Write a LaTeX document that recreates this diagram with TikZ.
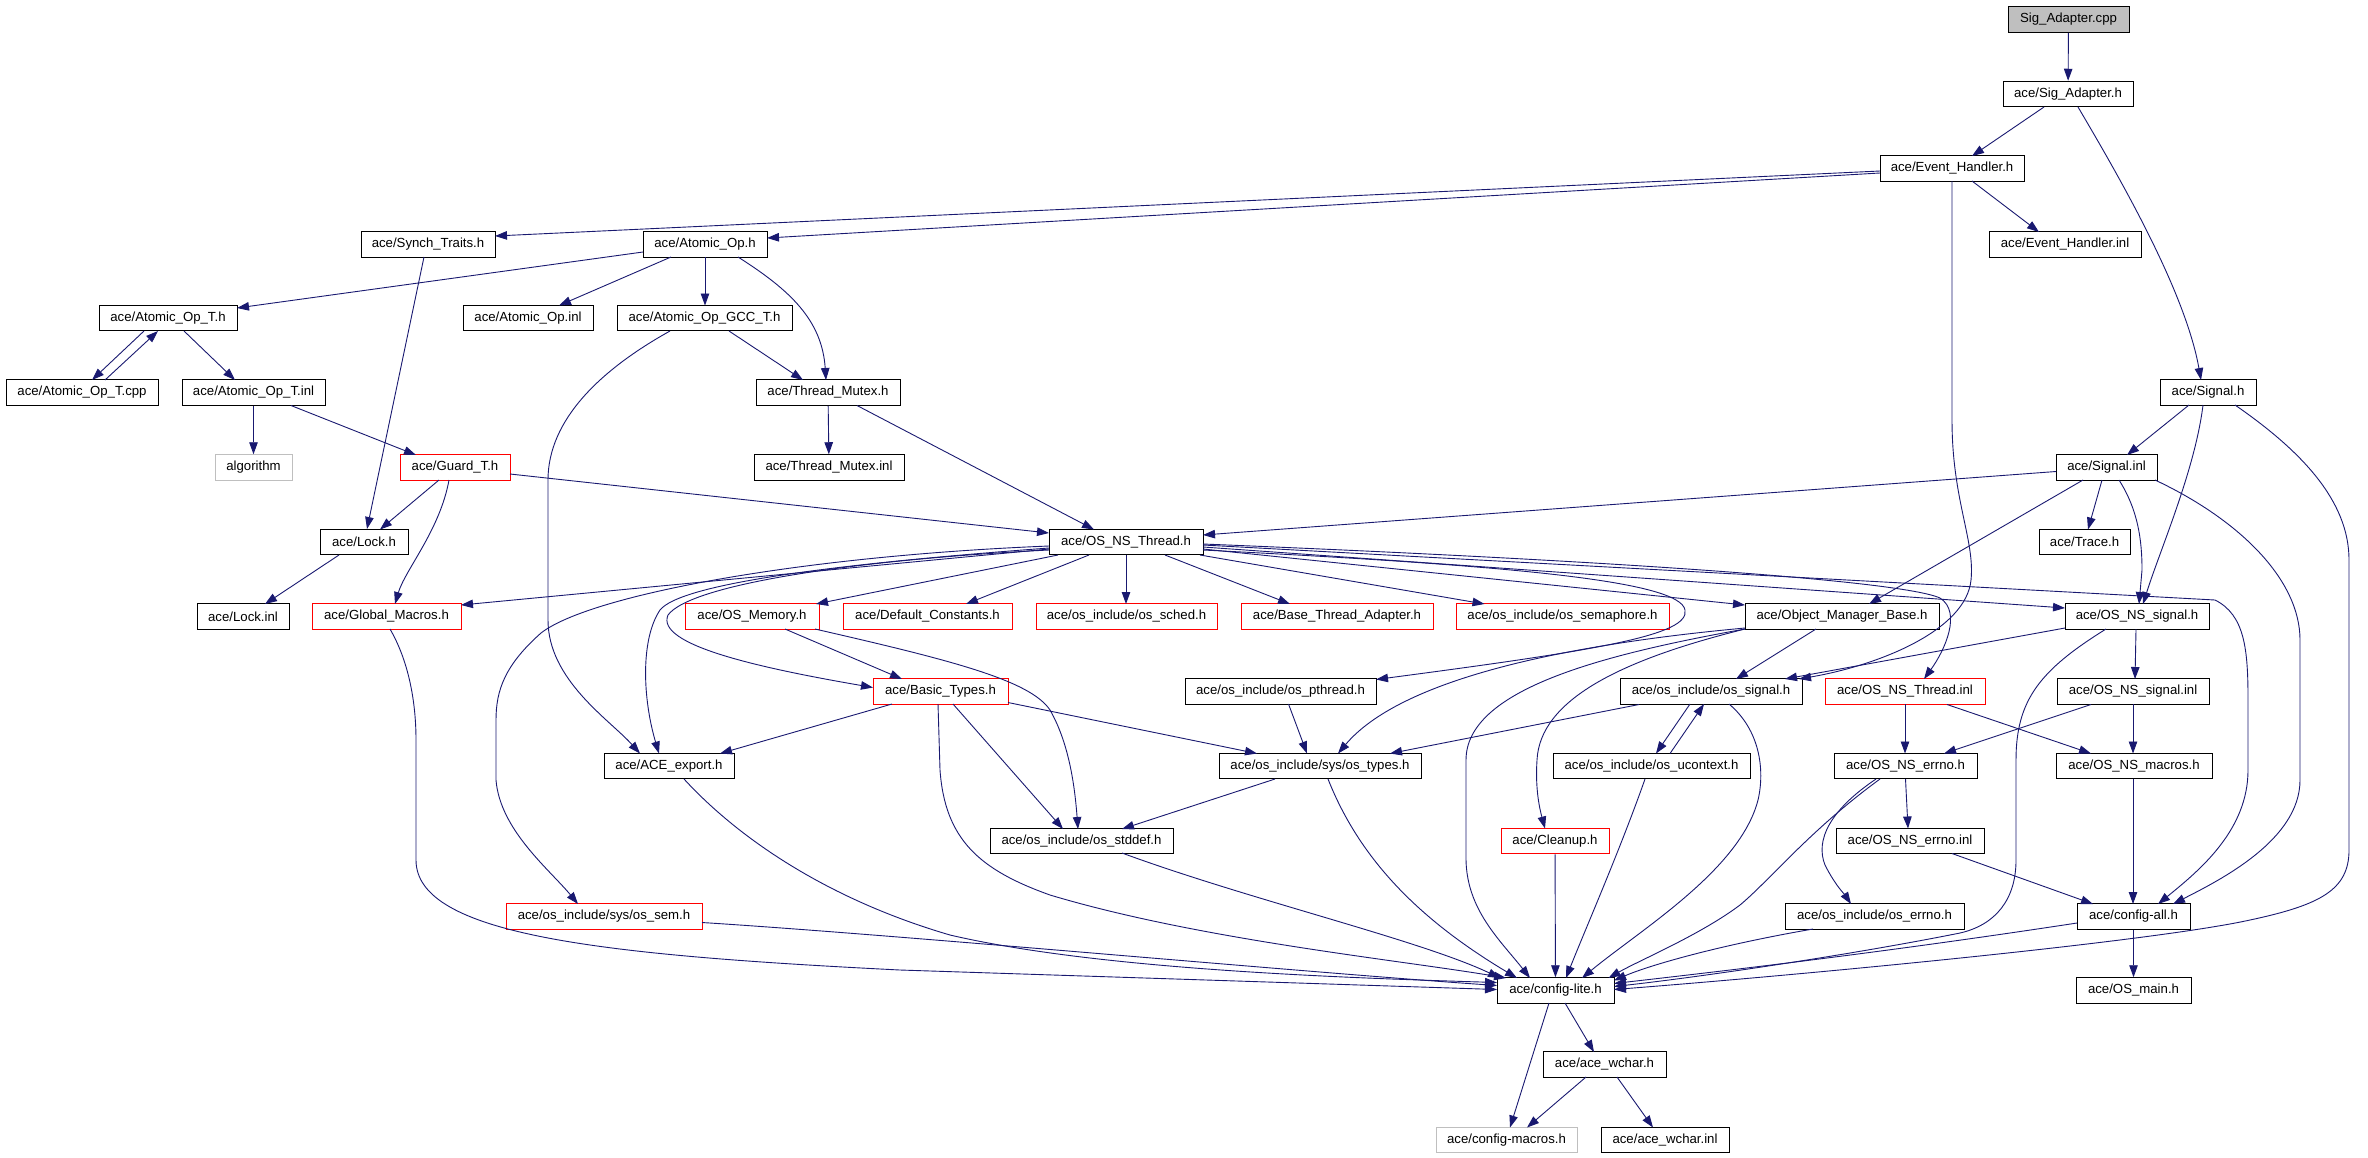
\documentclass[tikz,border=0pt]{standalone}
\usepackage{fontspec}
\setmainfont{Liberation Sans}
\usetikzlibrary{arrows.meta,calc}
\definecolor{edgeblue}{RGB}{25,25,112}
\definecolor{graybox}{RGB}{191,191,191}
\begin{document}
\begin{tikzpicture}[x=1pt,y=-1pt,
  box/.style={draw=black,line width=1pt,rectangle,inner sep=0pt,minimum height=25.5pt,font=\fontsize{13.2}{15}\selectfont,text=black},
  redbox/.style={box,draw=red},
  greybox/.style={box,draw=graybox},
  rootbox/.style={box,fill=graybox},
  e/.style={draw=edgeblue,line width=0.9pt,-{Triangle[length=12pt,width=8.5pt]}}]
\useasboundingbox (0,0) rectangle (2368,1157);
% nodes
\node[rootbox,minimum width=121pt] (cpp) at (2068.5,19.5) {Sig\_Adapter.cpp};
\node[box,minimum width=130pt] (sigh) at (2068,94) {ace/Sig\_Adapter.h};
\node[box,minimum width=144pt] (evh) at (1952,168.5) {ace/Event\_Handler.h};
\node[box,minimum width=134pt] (synch) at (428,244.5) {ace/Synch\_Traits.h};
\node[box,minimum width=124pt] (aop) at (705,244.5) {ace/Atomic\_Op.h};
\node[box,minimum width=152pt] (evhinl) at (2065,244.5) {ace/Event\_Handler.inl};
\node[box,minimum width=138pt] (aopt) at (168,318) {ace/Atomic\_Op\_T.h};
\node[box,minimum width=130pt] (aopinl) at (528,318) {ace/Atomic\_Op.inl};
\node[box,minimum width=175pt] (gcc) at (704.5,318) {ace/Atomic\_Op\_GCC\_T.h};
\node[box,minimum width=152pt] (aoptcpp) at (82,392.5) {ace/Atomic\_Op\_T.cpp};
\node[box,minimum width=143pt] (aoptinl) at (253.5,392.5) {ace/Atomic\_Op\_T.inl};
\node[box,minimum width=144pt] (tmutex) at (828,392.5) {ace/Thread\_Mutex.h};
\node[box,minimum width=96pt] (signal) at (2208,392.5) {ace/Signal.h};
\node[greybox,minimum width=77pt] (algorithm) at (253.5,467.5) {algorithm};
\node[redbox,minimum width=110pt] (guard) at (455,467.5) {ace/Guard\_T.h};
\node[box,minimum width=150pt] (tmutexinl) at (829,467.5) {ace/Thread\_Mutex.inl};
\node[box,minimum width=101pt] (signalinl) at (2106.5,467.5) {ace/Signal.inl};
\node[box,minimum width=88pt] (lock) at (364,542) {ace/Lock.h};
\node[box,minimum width=154pt] (osnsthread) at (1126,542) {ace/OS\_NS\_Thread.h};
\node[box,minimum width=91pt] (trace) at (2084.5,542) {ace/Trace.h};
\node[box,minimum width=92pt] (lockinl) at (243,616.5) {ace/Lock.inl};
\node[redbox,minimum width=149pt] (globalmacros) at (386.5,616.5) {ace/Global\_Macros.h};
\node[redbox,minimum width=134pt] (osmemory) at (752,616.5) {ace/OS\_Memory.h};
\node[redbox,minimum width=169pt] (defconst) at (927.5,616.5) {ace/Default\_Constants.h};
\node[redbox,minimum width=181pt] (ossched) at (1126.5,616.5) {ace/os\_include/os\_sched.h};
\node[redbox,minimum width=192pt] (bta) at (1337,616.5) {ace/Base\_Thread\_Adapter.h};
\node[redbox,minimum width=213pt] (ossem4) at (1562.5,616.5) {ace/os\_include/os\_semaphore.h};
\node[box,minimum width=194pt] (omb) at (1842,616.5) {ace/Object\_Manager\_Base.h};
\node[box,minimum width=144pt] (osnssignal) at (2137,616.5) {ace/OS\_NS\_signal.h};
\node[redbox,minimum width=135pt] (basictypes) at (940.5,691.5) {ace/Basic\_Types.h};
\node[box,minimum width=191pt] (ospthread) at (1280.5,691.5) {ace/os\_include/os\_pthread.h};
\node[box,minimum width=182pt] (ossignal) at (1711,691.5) {ace/os\_include/os\_signal.h};
\node[redbox,minimum width=160pt] (osnsthreadinl) at (1905,691.5) {ace/OS\_NS\_Thread.inl};
\node[box,minimum width=152pt] (osnssignalinl) at (2133,691.5) {ace/OS\_NS\_signal.inl};
\node[box,minimum width=130pt] (aceexport) at (669,766) {ace/ACE\_export.h};
\node[box,minimum width=202pt] (ostypes) at (1320,766) {ace/os\_include/sys/os\_types.h};
\node[box,minimum width=197pt] (osucontext) at (1651.5,766) {ace/os\_include/os\_ucontext.h};
\node[box,minimum width=143pt] (osnserrno) at (1905.5,766) {ace/OS\_NS\_errno.h};
\node[box,minimum width=156pt] (osnsmacros) at (2134,766) {ace/OS\_NS\_macros.h};
\node[box,minimum width=183pt] (osstddef) at (1081.5,841) {ace/os\_include/os\_stddef.h};
\node[redbox,minimum width=108pt] (cleanup) at (1555,841) {ace/Cleanup.h};
\node[box,minimum width=148pt] (osnserrnoinl) at (1910,841) {ace/OS\_NS\_errno.inl};
\node[redbox,minimum width=196pt] (ossemsys) at (604,916.5) {ace/os\_include/sys/os\_sem.h};
\node[box,minimum width=179pt] (oserrno) at (1874.5,916.5) {ace/os\_include/os\_errno.h};
\node[box,minimum width=113pt] (configall) at (2133.5,916.5) {ace/config-all.h};
\node[box,minimum width=117pt] (configlite) at (1555.5,990.5) {ace/config-lite.h};
\node[box,minimum width=115pt] (osmain) at (2133.5,990.5) {ace/OS\_main.h};
\node[box,minimum width=123pt] (acewchar) at (1604.5,1064.5) {ace/ace\_wchar.h};
\node[greybox,minimum width=141pt] (configmacros) at (1506.5,1140) {ace/config-macros.h};
\node[box,minimum width=128pt] (acewcharinl) at (1665,1140) {ace/ace\_wchar.inl};
% edges
\draw[e] (cpp) -- (sigh);
\draw[e] ($(sigh)+(-24,13)$) -- ($(evh)+(20,-12.5)$);
\draw[e] ($(sigh)+(10,13)$) .. controls (2118,175) and (2185,290) .. ($(signal)+(-7,-12.5)$);
\draw[e] ($(evh)+(-72,2.5)$) -- ($(synch)+(67,-8.5)$);
\draw[e] ($(evh)+(-72,4.5)$) -- ($(aop)+(62,-6.5)$);
\draw[e] ($(evh)+(20,12.5)$) -- ($(evhinl)+(-26,-12.5)$);
\draw[e] ($(evh)+(0,12.5)$) -- (1952,420) .. controls (1952,500) and (1975,540) .. (1971,580) .. controls (1966,630) and (1880,665) .. ($(ossignal)+(88,-12.5)$);
\draw[e] ($(synch)+(-4,12.5)$) -- ($(lock)+(3,-13)$);
\draw[e] ($(aop)+(-62,7.5)$) -- ($(aopt)+(69,-10)$);
\draw[e] ($(aop)+(-34,12.5)$) -- ($(aopinl)+(31,-12.5)$);
\draw[e] ($(aop)+(0,12.5)$) -- ($(gcc)+(0.5,-12.5)$);
\draw[e] ($(aop)+(33,12.5)$) .. controls (790,290) and (822,320) .. ($(tmutex)+(-2,-12.5)$);
\draw[e] ($(aopt)+(-24,13)$) -- ($(aoptcpp)+(10,-12.5)$);
\draw[e] ($(aoptcpp)+(23,-12.5)$) -- ($(aopt)+(-10,13)$);
\draw[e] ($(aopt)+(16,13)$) -- ($(aoptinl)+(-18.5,-12.5)$);
\draw[e] ($(gcc)+(-34.5,13)$) .. controls (600,370) and (548,420) .. (548,480) -- (548,620) .. controls (548,680) and (610,720) .. ($(aceexport)+(-29,-12.5)$);
\draw[e] ($(gcc)+(24.5,13)$) -- ($(tmutex)+(-25,-12.5)$);
\draw[e] (aoptinl) -- (algorithm);
\draw[e] ($(aoptinl)+(37.5,13)$) -- ($(guard)+(-39,-12.5)$);
\draw[e] (tmutex) -- (tmutexinl);
\draw[e] ($(tmutex)+(29,13)$) -- ($(osnsthread)+(-32,-12.5)$);
\draw[e] ($(guard)+(-16,12.5)$) -- ($(lock)+(16,-12.5)$);
\draw[e] ($(guard)+(-6,12.5)$) .. controls (440,530) and (405,570) .. ($(globalmacros)+(8.5,-12.5)$);
\draw[e] ($(guard)+(55,6.5)$) -- ($(osnsthread)+(-77,-9)$);
\draw[e] ($(lock)+(-25,13)$) -- ($(lockinl)+(22,-12.5)$);
\draw[e] ($(globalmacros)+(3.5,12.5)$) .. controls (408,660) and (416,700) .. (416,740) -- (416,860) .. controls (416,935) and (600,955) .. (900,970) -- ($(configlite)+(-58.5,-1)$);
\draw[e] ($(osnsthread)+(-77,7)$) -- ($(globalmacros)+(74.5,-11.5)$);
\draw[e] ($(osnsthread)+(-77,4)$) .. controls (800,556) and (590,595) .. (541,633) .. controls (505,665) and (496,690) .. (496,720) -- (496,780) .. controls (500,830) and (550,870) .. ($(ossemsys)+(-26,-12.5)$);
\draw[e] ($(osnsthread)+(-77,6)$) .. controls (820,565) and (680,585) .. (660,610) .. controls (640,640) and (643,700) .. ($(aceexport)+(-10,-12.5)$);
\draw[e] ($(osnsthread)+(-77,8)$) .. controls (850,560) and (690,585) .. (668,615) .. controls (655,645) and (760,668) .. ($(basictypes)+(-67.5,-4)$);
\draw[e] ($(osnsthread)+(-68,13)$) -- ($(osmemory)+(64,-12.5)$);
\draw[e] ($(osnsthread)+(-37,13)$) -- ($(defconst)+(38.5,-12.5)$);
\draw[e] ($(osnsthread)+(0,13)$) -- ($(ossched)+(-0.5,-12.5)$);
\draw[e] ($(osnsthread)+(39,13)$) -- ($(bta)+(-47,-12.5)$);
\draw[e] ($(osnsthread)+(74,13)$) -- ($(ossem4)+(-78,-12.5)$);
\draw[e] ($(osnsthread)+(77,7)$) -- ($(omb)+(-97,-11.5)$);
\draw[e] ($(osnsthread)+(77,5)$) -- ($(osnssignal)+(-72,-8.5)$);
\draw[e] ($(osnsthread)+(77,3)$) -- (2215,600) .. controls (2245,615) and (2248,650) .. (2248,700) -- (2248,770) .. controls (2248,830) and (2200,870) .. ($(configall)+(24.5,-12.5)$);
\draw[e] ($(osnsthread)+(77,2)$) .. controls (1600,560) and (1900,580) .. (1940,598) .. controls (1962,612) and (1945,650) .. ($(osnsthreadinl)+(19,-12.5)$);
\draw[e] ($(osnsthread)+(77,8)$) .. controls (1500,565) and (1680,580) .. (1685,610) .. controls (1690,635) and (1600,650) .. ($(ospthread)+(95.5,-12)$);
\draw[e] ($(omb)+(-26,12.5)$) -- ($(ossignal)+(25,-12.5)$);
\draw[e] ($(omb)+(-97,11.5)$) .. controls (1560,645) and (1400,680) .. ($(ostypes)+(18,-12.5)$);
\draw[e] ($(omb)+(-97,12.5)$) .. controls (1600,655) and (1466,690) .. (1466,760) -- (1466,860) .. controls (1467,910) and (1500,940) .. ($(configlite)+(-25.5,-12.5)$);
\draw[e] ($(omb)+(-97,12.5)$) .. controls (1620,660) and (1540,700) .. (1537,760) .. controls (1535,790) and (1540,810) .. ($(cleanup)+(-10,-12.5)$);
\draw[e] ($(ossignal)+(-72,13)$) -- ($(ostypes)+(70,-12.5)$);
\draw[e] ($(ossignal)+(-21,12.5)$) -- ($(osucontext)+(4.5,-12.5)$);
\draw[e] ($(osucontext)+(18.5,-12.5)$) -- ($(ossignal)+(-7,12.5)$);
\draw[e] ($(ossignal)+(18,12.5)$) .. controls (1760,730) and (1765,770) .. (1758,800) .. controls (1740,870) and (1640,930) .. ($(configlite)+(26.5,-12.5)$);
\draw[e] ($(osucontext)+(-6.5,13)$) .. controls (1620,850) and (1585,930) .. ($(configlite)+(10.5,-12.5)$);
\draw[e] (cleanup) -- (configlite);
\draw[e] ($(ostypes)+(-45,13)$) -- ($(osstddef)+(40.5,-12)$);
\draw[e] ($(ostypes)+(8,13)$) .. controls (1360,860) and (1420,920) .. ($(configlite)+(-38.5,-12.5)$);
\draw[e] ($(osstddef)+(40.5,12)$) .. controls (1250,900) and (1420,940) .. ($(configlite)+(-55.5,-12.5)$);
\draw[e] ($(basictypes)+(-2.5,12.5)$) -- (940,770) .. controls (945,840) and (980,870) .. (1050,895) .. controls (1200,940) and (1400,960) .. ($(configlite)+(-49.5,-12.5)$);
\draw[e] ($(aceexport)+(15,13)$) .. controls (740,840) and (830,900) .. (950,935) .. controls (1100,970) and (1350,978) .. ($(configlite)+(-58.5,-8)$);
\draw[e] ($(ossemsys)+(98,6)$) .. controls (900,935) and (1300,972) .. ($(configlite)+(-58.5,-5)$);
\draw[e] ($(osnserrno)+(-25.5,13)$) .. controls (1810,830) and (1770,880) .. (1740,905) .. controls (1700,935) and (1640,960) .. ($(configlite)+(53,-12.5)$);
\draw[e] ($(osnserrno)+(-29.5,13)$) .. controls (1830,810) and (1815,840) .. (1825,865) .. controls (1835,885) and (1845,895) .. ($(oserrno)+(-23.5,-12.5)$);
\draw[e] ($(osnserrno)+(0,13)$) -- ($(osnserrnoinl)+(-2,-12.5)$);
\draw[e] ($(osnserrnoinl)+(42,12.5)$) -- ($(configall)+(-40.5,-12.5)$);
\draw[e] ($(oserrno)+(-61.5,12.5)$) .. controls (1720,945) and (1650,965) .. ($(configlite)+(58.5,-10)$);
\draw[e] ($(configall)+(-56.5,6.5)$) .. controls (1900,950) and (1750,968) .. ($(configlite)+(58.5,-7)$);
\draw[e] ($(osnssignal)+(-31,12.5)$) .. controls (2040,670) and (2016,700) .. (2016,760) -- (2016,860) .. controls (2016,900) and (1995,925) .. (1960,933) .. controls (1850,955) and (1700,977) .. ($(configlite)+(58.5,-4)$);
\draw[e] ($(signal)+(27,12.5)$) .. controls (2300,450) and (2349,500) .. (2349,560) -- (2349,850) .. controls (2349,890) and (2320,905) .. (2250,920) .. controls (2150,942) and (1800,975) .. ($(configlite)+(58.5,-1)$);
\draw[e] ($(signal)+(-19,12.5)$) -- ($(signalinl)+(20.5,-12.5)$);
\draw[e] ($(signal)+(-5,12.5)$) .. controls (2195,470) and (2160,550) .. ($(osnssignal)+(6,-12.5)$);
\draw[e] ($(signalinl)+(-50.5,4)$) -- ($(osnsthread)+(77,-7)$);
\draw[e] ($(signalinl)+(-23.5,12.5)$) -- ($(omb)+(27,-12.5)$);
\draw[e] ($(signalinl)+(-4.5,12.5)$) -- ($(trace)+(3.5,-12.5)$);
\draw[e] ($(signalinl)+(12.5,12.5)$) .. controls (2138,510) and (2142,540) .. (2142,570) -- ($(osnssignal)+(2,-12.5)$);
\draw[e] ($(signalinl)+(48.5,12.5)$) .. controls (2240,520) and (2300,580) .. (2300,640) -- (2300,780) .. controls (2300,840) and (2220,880) .. ($(configall)+(39.5,-12.5)$);
\draw[e] ($(osnssignal)+(-72,11.5)$) -- ($(ossignal)+(74,-12.5)$);
\draw[e] ($(osnssignal)+(-1,12.5)$) -- ($(osnssignalinl)+(2,-12.5)$);
\draw[e] ($(osnssignalinl)+(-42,13)$) -- ($(osnserrno)+(38.5,-12.5)$);
\draw[e] ($(osnssignalinl)+(0,12.5)$) -- ($(osnsmacros)+(-1,-12.5)$);
\draw[e] ($(osnsthreadinl)+(0,12.5)$) -- ($(osnserrno)+(-0.5,-12.5)$);
\draw[e] ($(osnsthreadinl)+(42,13)$) -- ($(osnsmacros)+(-43,-12.5)$);
\draw[e] ($(osnsmacros)+(-1,12.5)$) -- ($(configall)+(-0.5,-12.5)$);
\draw[e] (configall) -- (osmain);
\draw[e] ($(configlite)+(-6.5,12.5)$) -- ($(configmacros)+(3.5,-12.5)$);
\draw[e] ($(configlite)+(9.5,12.5)$) -- ($(acewchar)+(-10.5,-12.5)$);
\draw[e] ($(acewchar)+(-18.5,12.5)$) -- ($(configmacros)+(20.5,-12.5)$);
\draw[e] ($(acewchar)+(12.5,12.5)$) -- ($(acewcharinl)+(-12,-12.5)$);
\draw[e] ($(basictypes)+(-48.5,12.5)$) -- ($(aceexport)+(51,-12.5)$);
\draw[e] ($(basictypes)+(67.5,11)$) -- ($(ostypes)+(-63,-12.5)$);
\draw[e] ($(basictypes)+(12.5,12.5)$) -- ($(osstddef)+(-18.5,-12)$);
\draw[e] ($(osmemory)+(33,12.5)$) -- ($(basictypes)+(-38.5,-12.5)$);
\draw[e] ($(osmemory)+(63,12.5)$) .. controls (950,660) and (1030,680) .. (1050,710) .. controls (1070,745) and (1075,790) .. ($(osstddef)+(-3.5,-12)$);
\draw[e] ($(ospthread)+(8,12.5)$) -- ($(ostypes)+(-13,-12.5)$);
\end{tikzpicture}
\end{document}
